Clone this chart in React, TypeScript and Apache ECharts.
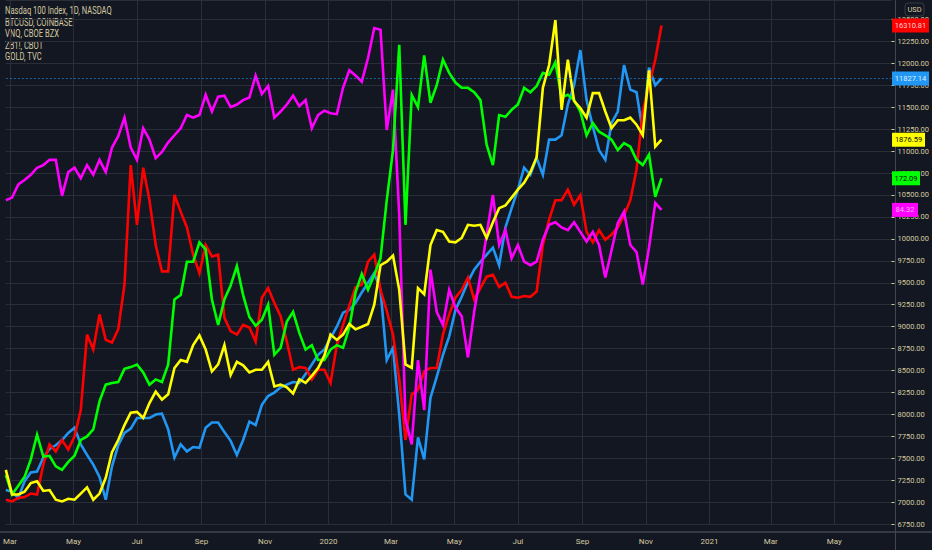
import React, { useEffect, useRef } from 'react';
import * as echarts from 'echarts';

// ---- axis / calendar setup ----
const START_UTC = Date.UTC(2019, 1, 25); // left edge of the plot
const DAY_COUNT = 852; // calendar days shown on the time axis
const SAMPLE_EVERY_DAYS = 6; // spacing of the read-off samples
const MONTH_NAMES = ['Jan', 'Feb', 'Mar', 'Apr', 'May', 'Jun', 'Jul', 'Aug', 'Sep', 'Oct', 'Nov', 'Dec'];
const Y_MIN = 6750;
const Y_MAX = 12720;
const Y_STEP = 250;

const legendLines = ['Nasdaq 100 Index, 1D, NASDAQ', 'BTCUSD, COINBASE', 'VNQ, CBOE BZX', 'ZB1!, CBOT', 'GOLD, TVC'];
const quoteLabels = ['11827.14', '16310.81', '84.32', '172.09', '1876.59'];

// ---- series values (in the price-axis units shown on the right) ----
const nasdaq = [
  7140, 7120, 7050, 7240, 7340, 7350, 7510, 7610, 7650, 7710,
  7790, 7850, 7660, 7540, 7430, 7290, 7030, 7410, 7650, 7790,
  7840, 7960, 7960, 7960, 8000, 8010, 7830, 7510, 7660, 7580,
  7630, 7620, 7850, 7910, 7910, 7800, 7700, 7540, 7710, 7920,
  7880, 8110, 8210, 8250, 8310, 8340, 8370, 8360, 8460, 8570,
  8680, 8740, 8870, 9000, 9160, 9190, 9270, 9390, 9500, 9610,
  9420, 8620, 8760, 8000, 7090, 7030, 7740, 7490, 8190, 8430,
  8680, 8890, 9190, 9340, 9510, 9650, 9740, 9820, 9900, 9700,
  10130, 10350, 10560, 10810, 10730, 10920, 10730, 11130, 11130, 11180,
  11530, 11750, 12150, 11580, 11280, 11010, 10900, 11320, 11450, 11980,
  11700, 11670, 11220, 11950, 11750, 11827.14,
];
const btcusd = [
  7030, 7010, 7050, 7060, 7100, 7090, 7430, 7660, 7580, 7710,
  7600, 7750, 8050, 8910, 8740, 9140, 8850, 8820, 8970, 9480,
  10840, 10160, 10810, 10440, 9930, 9630, 9630, 10500, 10310, 10130,
  9820, 9610, 9930, 9800, 9820, 9100, 8950, 8910, 9020, 8990,
  8830, 9330, 9440, 9270, 9120, 8830, 8510, 8540, 8530, 8400,
  8510, 8510, 8360, 8790, 9020, 9240, 9450, 9480, 9740, 9820,
  9420, 9180, 8910, 8400, 7710, 8230, 8280, 8490, 8530, 8530,
  8910, 9140, 9330, 9420, 9560, 9310, 9440, 9570, 9590, 9450,
  9500, 9340, 9330, 9350, 9340, 9400, 9930, 10220, 10440, 10440,
  10560, 10390, 10500, 10080, 9960, 10100, 9990, 10050, 10130, 10270,
  10440, 10790, 11450, 11750, 12040, 12430,
];
const vnq = [
  10440, 10470, 10620, 10670, 10730, 10810, 10840, 10900, 10900, 10490,
  10760, 10810, 10690, 10840, 10730, 10900, 10760, 11040, 11170, 11380,
  11040, 10900, 11260, 11130, 10920, 10990, 11100, 11180, 11260, 11410,
  11380, 11410, 11640, 11450, 11620, 11630, 11500, 11530, 11580, 11610,
  11860, 11650, 11740, 11380, 11450, 11530, 11630, 11510, 11580, 11260,
  11410, 11460, 11430, 11420, 11720, 11920, 11860, 11790, 12060, 12400,
  12380, 11240, 11700, 10270, 7940, 7660, 8620, 8050, 9650, 9170,
  9020, 9420, 9220, 9120, 8650, 9170, 9590, 10050, 10500, 9930,
  10100, 9780, 9930, 9740, 9700, 9740, 9990, 10160, 10190, 10130,
  10100, 10190, 10080, 9970, 10080, 9930, 9560, 9870, 10180, 10310,
  9930, 9850, 9480, 9900, 10410, 10330,
];
const zb1 = [
  7310, 7090, 7190, 7290, 7490, 7770, 7520, 7530, 7410, 7370,
  7460, 7530, 7710, 7750, 7830, 8150, 8340, 8360, 8370, 8520,
  8540, 8570, 8480, 8340, 8400, 8370, 8570, 9310, 9360, 9740,
  9740, 9960, 9880, 9310, 9020, 9310, 9470, 9690, 9360, 9110,
  9010, 9080, 9250, 8680, 8760, 9060, 9170, 8930, 8740, 8790,
  8620, 8620, 8740, 8790, 8760, 8990, 9390, 9600, 9420, 9590,
  9780, 10440, 11010, 12210, 10160, 11640, 11500, 12090, 11550, 11750,
  12040, 11890, 11780, 11720, 11720, 11670, 11580, 11070, 10840, 11410,
  11390, 11470, 11530, 11720, 11670, 11740, 11890, 11870, 12010, 11610,
  11640, 11580, 11450, 11180, 11320, 11220, 11180, 11130, 11010, 11090,
  11050, 10900, 10840, 10960, 10480, 10690,
];
const gold = [
  7370, 7090, 7090, 7120, 7220, 7240, 7130, 7140, 7030, 7010,
  7040, 7030, 7100, 7170, 7030, 7100, 7280, 7570, 7710, 7880,
  8020, 8030, 7960, 8130, 8260, 8170, 8230, 8530, 8620, 8600,
  8790, 8900, 8740, 8490, 8570, 8790, 8450, 8600, 8560, 8480,
  8510, 8510, 8600, 8320, 8340, 8310, 8240, 8400, 8360, 8440,
  8530, 8670, 8910, 8850, 8910, 9030, 8970, 9000, 9030, 9250,
  9700, 9740, 9810, 9420, 8570, 8530, 9440, 9370, 9930, 10100,
  10080, 9970, 9960, 10010, 10160, 10150, 10160, 10010, 10190, 10350,
  10380, 10470, 10560, 10640, 10760, 10930, 11720, 11980, 12490, 11470,
  12040, 11570, 11490, 11380, 11660, 11660, 11450, 11260, 11350, 11350,
  11380, 11300, 11180, 11920, 11050, 11130,
];

// ---- styling ----
const BG = '#131722';
const GRID = '#2a2e39';
const TEXT = '#d3caa0';
const FRAME = '#434651';
const FONT = 'Roboto, "Liberation Sans", sans-serif';

const categories: string[] = Array.from({ length: DAY_COUNT }, (_, i) =>
  new Date(START_UTC + i * 86400000).toISOString().slice(0, 10)
);

const isMonthMark = (_i: number, v: string) => v.slice(8) === '01' && Number(v.slice(5, 7)) % 2 === 1;
const monthLabel = (v: string) => {
  const m = Number(v.slice(5, 7));
  return m === 1 ? v.slice(0, 4) : MONTH_NAMES[m - 1];
};

function lineSeries(
  name: string,
  values: number[],
  color: string,
  quote: string,
  boxWidth: number,
  textColor: string,
  priceLine: boolean
) {
  const last = values[values.length - 1];
  const s: any = {
    name,
    type: 'line',
    data: values.map((v, k) => [categories[k * SAMPLE_EVERY_DAYS], v]),
    symbol: 'none',
    showSymbol: false,
    silent: true,
    lineStyle: { color, width: 2.6, join: 'miter' },
    itemStyle: { color },
    markPoint: {
      silent: true,
      symbol: 'rect',
      symbolSize: [boxWidth, 14],
      symbolOffset: [boxWidth / 2 + 0.5, 0],
      itemStyle: { color },
      label: {
        show: true,
        position: 'inside',
        formatter: quote,
        color: textColor,
        fontSize: 7.5,
        fontFamily: FONT,
      },
      data: [{ coord: [categories[DAY_COUNT - 1], last] }],
    },
  };
  if (priceLine) {
    s.markLine = {
      silent: true,
      symbol: ['none', 'none'],
      label: { show: false },
      lineStyle: { color, width: 1, type: [2, 2], opacity: 0.6 },
      data: [{ yAxis: last }],
    };
  }
  return s;
}

export default function App() {
  const ref = useRef<HTMLDivElement>(null);
  useEffect(() => {
    if (!ref.current) return;
    const chart = echarts.init(ref.current, undefined, { renderer: 'svg' });
    const legendGraphics = legendLines.map((t, i) => ({
      type: 'group',
      x: 5,
      y: 11 + i * 11.5,
      scaleX: 0.76,
      children: [
        {
          type: 'text',
          x: 0,
          y: 0,
          style: { text: t, fill: TEXT, fontSize: 10, fontFamily: FONT, verticalAlign: 'middle' },
        },
      ],
    }));
    chart.setOption({
      backgroundColor: BG,
      animation: false,
      grid: { left: 0, right: 36.5, top: 0, bottom: 25.7, containLabel: false },
      xAxis: {
        type: 'category',
        data: categories,
        boundaryGap: false,
        offset: 7.7,
        axisLine: { show: false },
        axisTick: { show: false },
        axisLabel: {
          interval: isMonthMark,
          formatter: monthLabel,
          color: TEXT,
          fontSize: 8,
          fontFamily: FONT,
          margin: 5,
        },
        splitLine: { show: true, interval: isMonthMark, lineStyle: { color: GRID, width: 1 } },
      },
      yAxis: {
        type: 'value',
        position: 'right',
        min: Y_MIN,
        max: Y_MAX,
        interval: Y_STEP,
        axisLine: { show: false },
        axisTick: { show: true, length: 3, lineStyle: { color: TEXT } },
        axisLabel: {
          color: TEXT,
          fontSize: 7.5,
          fontFamily: FONT,
          margin: 6,
          showMaxLabel: false,
          formatter: (v: number) => v.toFixed(2),
        },
        splitLine: { show: true, lineStyle: { color: GRID, width: 1 } },
      },
      graphic: [
        { type: 'rect', silent: true, shape: { x: 0, y: 531, width: 932, height: 2 }, style: { fill: '#363a45' } },
        { type: 'rect', silent: true, shape: { x: 895, y: 0, width: 1, height: 550 }, style: { fill: FRAME } },
        {
          type: 'rect',
          silent: true,
          shape: { x: 905, y: 3, width: 19, height: 13, r: 3 },
          style: { fill: BG, stroke: '#363a45', lineWidth: 1 },
        },
        {
          type: 'text',
          silent: true,
          x: 914.5,
          y: 9.5,
          style: { text: 'USD', fill: TEXT, fontSize: 7.5, fontFamily: FONT, align: 'center', verticalAlign: 'middle' },
        },
        ...legendGraphics,
      ],
      series: [
        lineSeries(legendLines[0], nasdaq, '#2196f3', quoteLabels[0], 37, '#dcefff', true),
        lineSeries(legendLines[1], btcusd, '#ff0000', quoteLabels[1], 37, '#ffd6d6', false),
        lineSeries(legendLines[2], vnq, '#ff00ff', quoteLabels[2], 26, '#ffb3ff', false),
        lineSeries(legendLines[3], zb1, '#00ff00', quoteLabels[3], 28, '#0a0a0a', false),
        lineSeries(legendLines[4], gold, '#ffff00', quoteLabels[4], 33, '#0a0a0a', false),
      ],
    });
    return () => chart.dispose();
  }, []);
  return <div ref={ref} style={{ position: 'fixed', left: 0, top: 0, width: 932, height: 550 }} />;
}
